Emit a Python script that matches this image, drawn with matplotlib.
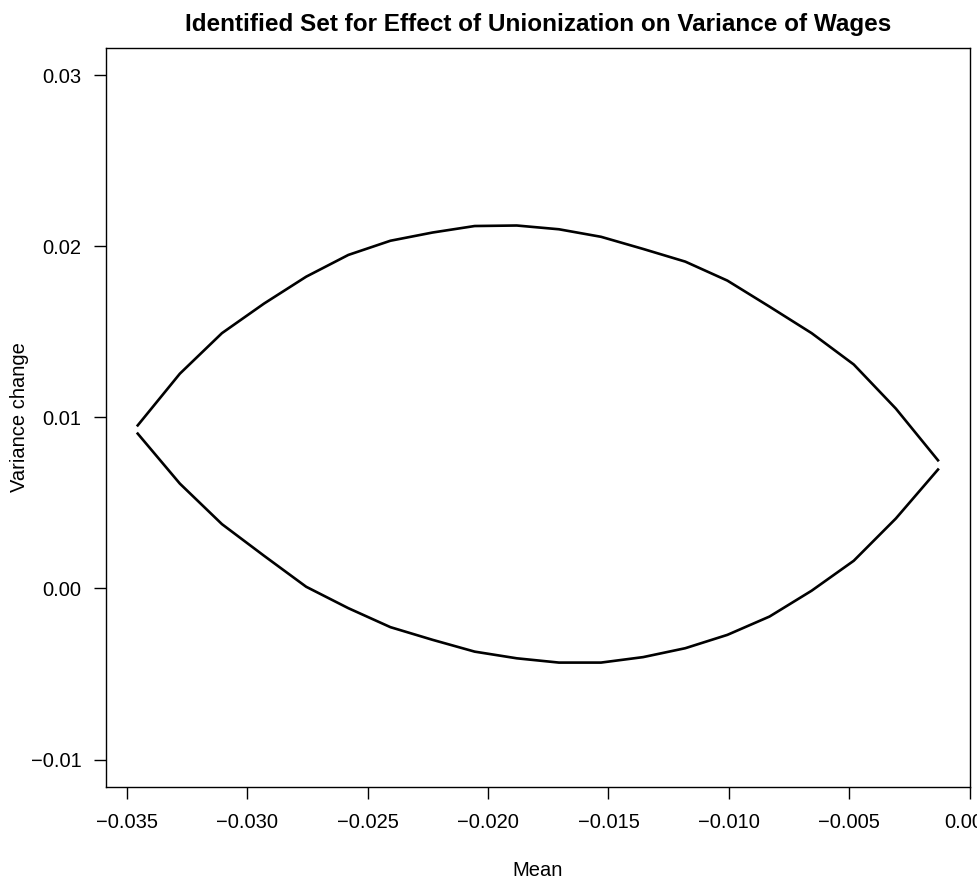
import matplotlib
matplotlib.use("Agg")
from matplotlib import pyplot as plt
from matplotlib.ticker import FuncFormatter

plt.rcParams['font.family'] = ['Liberation Sans', 'DejaVu Sans']

# mean change (x) at each grid point
mean_vals = [-0.03456, -0.03281, -0.03106, -0.02931, -0.02756, -0.02581, -0.02406,
             -0.02231, -0.02056, -0.01881, -0.01706, -0.01531, -0.01356, -0.01181,
             -0.01006, -0.00831, -0.00656, -0.00481, -0.00306, -0.00131]

# upper and lower bound of variance change
upper_vals = [0.00953, 0.01255, 0.01492, 0.01665, 0.01822, 0.01949, 0.02032,
              0.02080, 0.02118, 0.02121, 0.02099, 0.02055, 0.01984, 0.01910,
              0.01799, 0.01647, 0.01492, 0.01309, 0.01051, 0.00749]
lower_vals = [0.00905, 0.00613, 0.00376, 0.00191, 0.00010, -0.00115, -0.00226,
              -0.00300, -0.00369, -0.00408, -0.00433, -0.00433, -0.00401, -0.00349,
              -0.00271, -0.00164, -0.00013, 0.00162, 0.00409, 0.00695]

x_ticks = [-0.035, -0.030, -0.025, -0.020, -0.015, -0.010, -0.005, 0.000]
y_ticks = [-0.01, 0.00, 0.01, 0.02, 0.03]

W, H = 978, 881
fig = plt.figure(figsize=(W / 100, H / 100), dpi=100)
ax = fig.add_axes([105.7 / W, 1 - 787 / H, (970 - 105.7) / W, (787 - 47.7) / H])

ax.plot(mean_vals, upper_vals, color="black", linewidth=1.9)
ax.plot(mean_vals, lower_vals, color="black", linewidth=1.9)

# R style 4% padding
xr = max(mean_vals) - min(mean_vals)
ax.set_xlim(min(mean_vals) - 0.04 * xr, max(mean_vals) + 0.04 * xr)
yr = 0.03 - (-0.01)
ax.set_ylim(-0.01 - 0.04 * yr, 0.03 + 0.04 * yr)

ax.set_xticks(x_ticks)
ax.set_yticks(y_ticks)
ax.xaxis.set_major_formatter(FuncFormatter(lambda v, p: ("%.3f" % v).replace("-", "\u2212")))
ax.yaxis.set_major_formatter(FuncFormatter(lambda v, p: ("%.2f" % v).replace("-", "\u2212")))
ax.tick_params(axis="both", direction="out", length=8.9, width=1.0, labelsize=14.5, colors="black")
ax.tick_params(axis="x", pad=10)
ax.tick_params(axis="y", pad=8.5)
for s in ax.spines.values():
    s.set_linewidth(1.0)
    s.set_color("black")

ax.set_title("Identified Set for Effect of Unionization on Variance of Wages",
             fontsize=17.5, fontweight="bold", pad=12)

# axis labels placed like R's mtext at line 3
fig.text(537.9 / W, 1 - 876 / H, "Mean", fontsize=14.5, ha="center", va="baseline")
fig.text(20 / W, 1 - 417 / H, "Variance change", fontsize=14.5, rotation=90,
         ha="center", va="center")

fig.savefig("out.png", dpi=100)
